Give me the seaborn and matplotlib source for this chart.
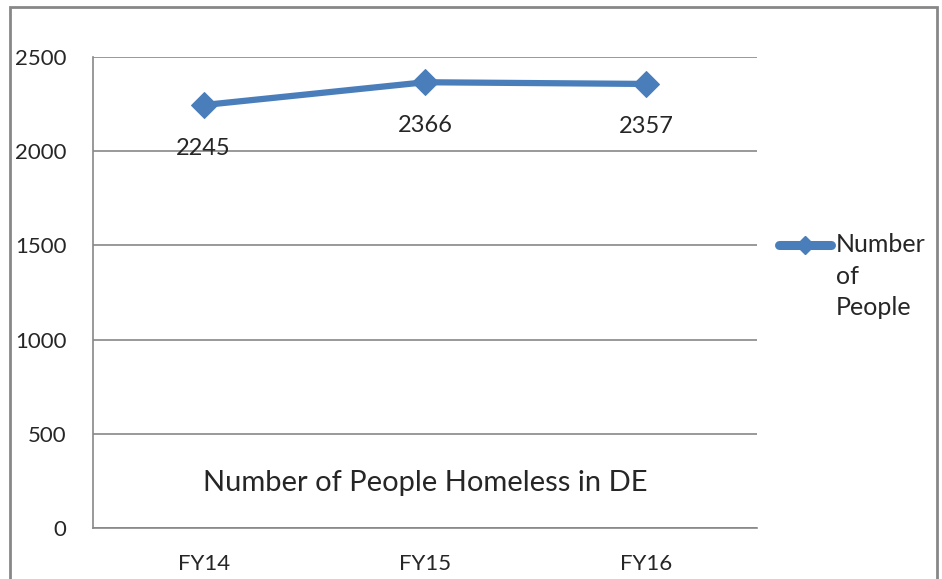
import numpy as np
import pandas as pd
import seaborn as sns
import matplotlib.pyplot as plt
from matplotlib.patches import Rectangle
from matplotlib.lines import Line2D

# data
years = ['FY14', 'FY15', 'FY16']
people = [2245, 2366, 2357]

df = pd.DataFrame({'Year': years, 'People': people})

sns.set_style('white')
plt.rcParams['font.family'] = ['Lato', 'DejaVu Sans']

blue = '#4a7ebb'
grey = '#878787'

fig = plt.figure(figsize=(9.42, 5.79), dpi=100)
ax = fig.add_axes([93/942, 1 - 528/579, (757 - 93)/942, (528 - 57)/579])

sns.lineplot(data=df, x='Year', y='People', ax=ax, color=blue, linewidth=4.5,
             marker='D', markersize=13, markeredgecolor=blue, sort=False)

ax.set_xlim(-0.5, 2.5)
ax.set_ylim(0, 2500)
ax.set_yticks([0, 500, 1000, 1500, 2000, 2500])
ax.yaxis.grid(True, color=grey, linewidth=1.2)
ax.set_axisbelow(True)
ax.set_xlabel('')
ax.set_ylabel('')

for s in ['top', 'right']:
    ax.spines[s].set_visible(False)
for s in ['left', 'bottom']:
    ax.spines[s].set_color(grey)
    ax.spines[s].set_linewidth(1.2)

ax.tick_params(axis='y', length=6, color=grey, width=1.2, labelsize=16, pad=13)
ax.tick_params(axis='x', which='major', length=0, labelsize=16, pad=19)
ax.set_xticks([-0.5, 0.5, 1.5, 2.5], minor=True)
ax.tick_params(axis='x', which='minor', length=6, color=grey, width=1.2)

# data labels below each point
for i, v in enumerate(people):
    ax.annotate(str(v), (i, v), xytext=(0, -31), textcoords='offset points',
                ha='center', va='center', fontsize=17)

ax.text(1, 240, 'Number of People Homeless in DE', ha='center', va='center', fontsize=21)

# legend drawn by hand so the key lines up with the first text line
fig.add_artist(Line2D([779/942, 831/942], [1 - 245/579] * 2, color=blue, linewidth=6.5,
                      solid_capstyle='round'))
fig.add_artist(Line2D([805/942], [1 - 245/579], color=blue, marker='D', markersize=9))
fig.text(836/942, 1 - 233/579, 'Number\nof\nPeople', ha='left', va='top',
         fontsize=18, linespacing=1.45)

fig.patches.append(Rectangle((10/942, -0.05), (937 - 10)/942, 0.05 + 1 - 7/579,
                             transform=fig.transFigure, fill=False,
                             edgecolor=grey, linewidth=2))

fig.savefig('out.png', dpi=100)
